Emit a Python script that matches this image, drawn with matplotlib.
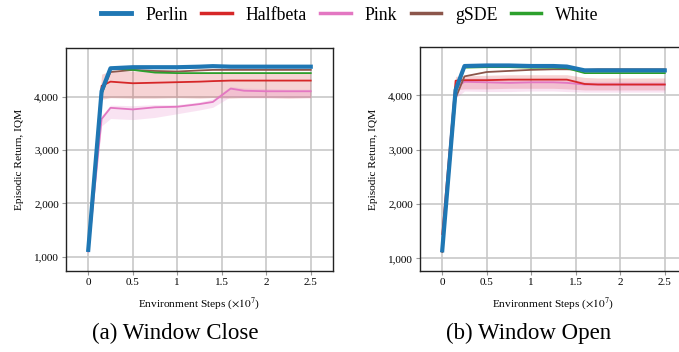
import numpy as np
import matplotlib
matplotlib.use("Agg")
import matplotlib.pyplot as plt
from matplotlib.lines import Line2D

plt.rcParams['font.family'] = ['Liberation Serif', 'DejaVu Serif']
plt.rcParams['mathtext.fontset'] = 'stix'

# environment steps (x1e7)
steps = [0, 0.15, 0.25, 0.5, 0.75, 1.0, 1.25, 1.4, 1.6, 1.75, 2.0, 2.25, 2.5]

# Window Close
close_perlin = [1130, 4100, 4530, 4550, 4550, 4550, 4560, 4570, 4560, 4560, 4560, 4560, 4560]
close_white = [1150, 4050, 4530, 4500, 4450, 4440, 4440, 4440, 4440, 4440, 4440, 4440, 4440]
close_gsde = [1150, 4050, 4460, 4500, 4480, 4470, 4490, 4500, 4500, 4500, 4500, 4500, 4500]
close_halfbeta = [1200, 4200, 4280, 4250, 4260, 4270, 4280, 4290, 4300, 4300, 4300, 4300, 4300]
close_halfbeta_lo = [1150, 3950, 3980, 3970, 3970, 3980, 3970, 3980, 3970, 3980, 3980, 3970, 3980]
close_halfbeta_hi = [1250, 4420, 4480, 4480, 4460, 4450, 4450, 4460, 4470, 4470, 4460, 4460, 4460]
close_pink = [1100, 3580, 3790, 3760, 3800, 3810, 3860, 3900, 4150, 4110, 4100, 4100, 4100]
close_pink_lo = [1050, 3450, 3590, 3570, 3610, 3680, 3750, 3800, 4000, 3980, 3980, 3980, 3980]
close_pink_hi = [1150, 3650, 3840, 3830, 3850, 3850, 3900, 3960, 4190, 4160, 4150, 4140, 4140]

# Window Open
open_perlin = [1150, 4100, 4540, 4550, 4550, 4540, 4540, 4530, 4460, 4460, 4460, 4460, 4460]
open_white = [1150, 4050, 4510, 4520, 4520, 4510, 4510, 4500, 4410, 4410, 4410, 4410, 4410]
open_gsde = [1120, 3950, 4350, 4430, 4450, 4470, 4480, 4480, 4470, 4480, 4480, 4480, 4480]
open_halfbeta = [1450, 4270, 4280, 4280, 4290, 4290, 4290, 4290, 4210, 4200, 4200, 4200, 4200]
open_halfbeta_lo = [1350, 4100, 4120, 4120, 4130, 4130, 4130, 4120, 4100, 4100, 4100, 4100, 4100]
open_halfbeta_hi = [1550, 4350, 4360, 4370, 4380, 4380, 4380, 4380, 4330, 4320, 4320, 4320, 4320]
open_pink = [1150, 4150, 4250, 4240, 4230, 4240, 4240, 4230, 4200, 4200, 4200, 4200, 4200]
open_pink_lo = [1100, 3950, 4080, 4070, 4070, 4080, 4080, 4070, 4060, 4060, 4060, 4060, 4060]
open_pink_hi = [1200, 4300, 4320, 4320, 4310, 4310, 4320, 4310, 4260, 4260, 4260, 4260, 4260]

names = ["Perlin", "Halfbeta", "Pink", "gSDE", "White"]
colors = {"Perlin": "#1f77b4", "Halfbeta": "#d62728", "Pink": "#e377c2",
          "gSDE": "#8c564b", "White": "#2ca02c"}


def draw(ax, perlin, white, gsde, halfbeta, hb_lo, hb_hi, pink, pk_lo, pk_hi, ylim):
    ax.fill_between(steps, hb_lo, hb_hi, color=colors["Halfbeta"], alpha=0.2, lw=0)
    ax.fill_between(steps, pk_lo, pk_hi, color=colors["Pink"], alpha=0.2, lw=0)
    ax.plot(steps, pink, color=colors["Pink"], lw=1.3)
    ax.plot(steps, halfbeta, color=colors["Halfbeta"], lw=1.3)
    ax.plot(steps, gsde, color=colors["gSDE"], lw=1.3)
    ax.plot(steps, white, color=colors["White"], lw=1.3)
    ax.plot(steps, perlin, color=colors["Perlin"], lw=3.0)
    ax.set_xlim(-0.25, 2.75)
    ax.set_ylim(*ylim)
    ax.set_xticks([0, 0.5, 1, 1.5, 2, 2.5])
    ax.set_xticklabels(["0", "0.5", "1", "1.5", "2", "2.5"])
    ax.set_yticks([1000, 2000, 3000, 4000])
    ax.set_yticklabels(["1,000", "2,000", "3,000", "4,000"])
    ax.grid(True, color="#c8c8c8", lw=1.2)
    ax.set_axisbelow(True)
    ax.tick_params(labelsize=8, length=3, width=0.8, color="#999999", pad=2)
    for s in ax.spines.values():
        s.set_linewidth(1.0)
        s.set_color("#222222")
    ax.set_xlabel(r"Environment Steps ($\times 10^7$)", fontsize=8.2, labelpad=6)
    ax.set_ylabel("Episodic Return, IQM", fontsize=8.2, labelpad=7)


fig = plt.figure(figsize=(6.79, 3.52), dpi=100)
ax1 = fig.add_axes([66 / 679, 1 - 271 / 352, 267 / 679, 223 / 352])
ax2 = fig.add_axes([420 / 679, 1 - 271 / 352, 267 / 679, 224 / 352])

draw(ax1, close_perlin, close_white, close_gsde, close_halfbeta, close_halfbeta_lo,
     close_halfbeta_hi, close_pink, close_pink_lo, close_pink_hi, (735, 4910))
draw(ax2, open_perlin, open_white, open_gsde, open_halfbeta, open_halfbeta_lo,
     open_halfbeta_hi, open_pink, open_pink_lo, open_pink_hi, (770, 4890))

fig.text(175 / 679, 1 - 333 / 352, "(a) Window Close", ha="center", va="center", fontsize=16.5)
fig.text(529 / 679, 1 - 333 / 352, "(b) Window Open", ha="center", va="center", fontsize=16.5)

handles = [Line2D([], [], color=colors[n], lw=(3.5 if n == "Perlin" else 2.5)) for n in names]
fig.legend(handles, names, loc="center", bbox_to_anchor=(350 / 679, 1 - 15 / 352), ncol=5,
           frameon=False, fontsize=12.8, handlelength=1.7, handletextpad=0.8, columnspacing=0.75)

fig.savefig("out.png", dpi=100)
